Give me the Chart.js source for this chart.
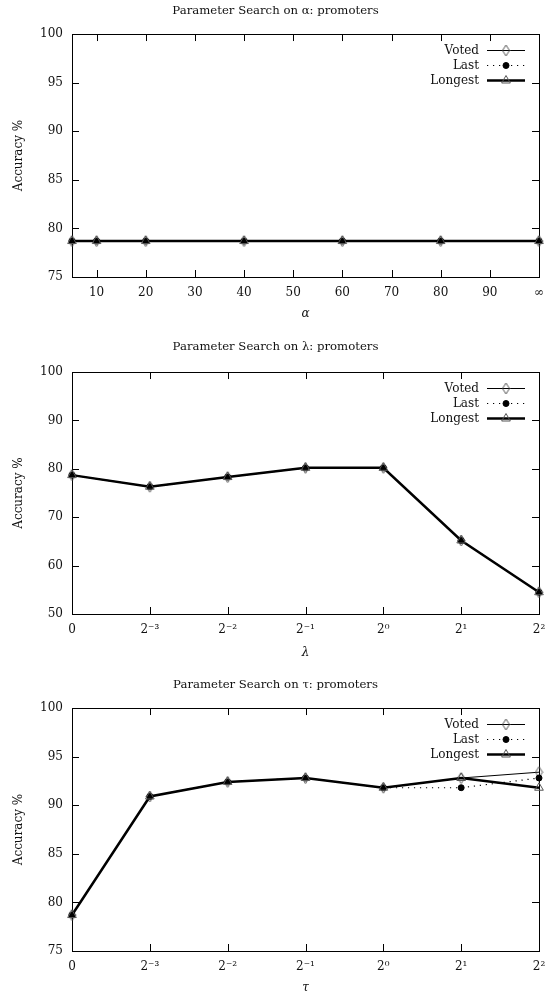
<!DOCTYPE html>
<html>
<head>
<meta charset="utf-8">
<script src="https://cdn.jsdelivr.net/npm/chart.js@4.4.1/dist/chart.umd.min.js"></script>
<style>
  html, body { margin: 0; padding: 0; background: #fff; }
  body { width: 547px; height: 996px; position: relative; overflow: hidden; }
  .panel { position: absolute; left: 0; width: 547px; }
</style>
</head>
<body>
<div class="panel" style="top:0;height:330px"><canvas id="alpha-chart"></canvas></div>
<div class="panel" style="top:330px;height:332px"><canvas id="lambda-chart"></canvas></div>
<div class="panel" style="top:662px;height:334px"><canvas id="tau-chart"></canvas></div>
<script>
// Parameter search results (promoters)
const seriesNames = ['Voted', 'Last', 'Longest'];

const alphaValues = [5, 10, 20, 40, 60, 80, 100];
const alphaTicks = [10, 20, 30, 40, 50, 60, 70, 80, 90, 100];
const alphaVoted = [78.7, 78.7, 78.7, 78.7, 78.7, 78.7, 78.7];
const alphaLast = [78.7, 78.7, 78.7, 78.7, 78.7, 78.7, 78.7];
const alphaLongest = [78.7, 78.7, 78.7, 78.7, 78.7, 78.7, 78.7];

const powerLabels = ['0', '2⁻³', '2⁻²', '2⁻¹', '2⁰', '2¹', '2²'];

const lambdaVoted = [78.7, 76.3, 78.3, 80.2, 80.2, 65.2, 54.5];
const lambdaLast = [78.7, 76.3, 78.3, 80.2, 80.2, 65.2, 54.5];
const lambdaLongest = [78.7, 76.3, 78.3, 80.2, 80.2, 65.2, 54.5];

const tauVoted = [78.7, 90.9, 92.4, 92.8, 91.8, 92.8, 93.4];
const tauLast = [78.7, 90.9, 92.4, 92.8, 91.8, 91.8, 92.8];
const tauLongest = [78.7, 90.9, 92.4, 92.8, 91.8, 92.8, 91.8];

const FONT = '"DejaVu Serif", "Liberation Serif", serif';
Chart.defaults.font.family = FONT;
Chart.defaults.font.size = 12;
Chart.defaults.color = '#111';

// tall hollow diamond like gnuplot's
function diamondMark(w, h, color) {
    const c = document.createElement('canvas');
    c.width = w + 2;
    c.height = h + 2;
    const g = c.getContext('2d');
    g.strokeStyle = color;
    g.lineWidth = 1;
    g.beginPath();
    g.moveTo(c.width / 2, 1);
    g.lineTo(c.width - 1, c.height / 2);
    g.lineTo(c.width / 2, c.height - 1);
    g.lineTo(1, c.height / 2);
    g.closePath();
    g.stroke();
    return c;
}
const diamond = diamondMark(7, 11, '#555');

function makeDatasets(voted, last, longest) {
    return [
        {
            label: seriesNames[0], data: voted,
            borderColor: '#000', borderWidth: 1,
            pointStyle: diamond, pointRadius: 5,
            pointBorderColor: '#555', pointBackgroundColor: 'rgba(0,0,0,0)', pointBorderWidth: 1,
            order: 3, clip: false
        },
        {
            label: seriesNames[1], data: last,
            borderColor: '#000', borderWidth: 1.2, borderDash: [1.2, 4.8],
            pointStyle: 'circle', pointRadius: 3,
            pointBorderColor: '#000', pointBackgroundColor: '#000', pointBorderWidth: 1,
            order: 2, clip: false
        },
        {
            label: seriesNames[2], data: longest,
            borderColor: '#000', borderWidth: 2.5,
            pointStyle: 'triangle', pointRadius: 5,
            pointBorderColor: '#555', pointBackgroundColor: 'rgba(0,0,0,0)', pointBorderWidth: 1,
            order: 1, clip: false
        }
    ];
}

// box with inward ticks on all four sides
const framePlugin = {
    id: 'frame',
    beforeDatasetsDraw(chart) {
        const { ctx, chartArea: a, scales } = chart;
        const len = 7;
        ctx.save();
        ctx.strokeStyle = '#000';
        ctx.lineWidth = 1;
        ctx.beginPath();
        scales.x.ticks.forEach((t, i) => {
            const px = Math.round(scales.x.getPixelForTick(i)) + 0.5;
            ctx.moveTo(px, a.bottom); ctx.lineTo(px, a.bottom - len);
            ctx.moveTo(px, a.top); ctx.lineTo(px, a.top + len);
        });
        scales.y.ticks.forEach((t, i) => {
            const py = Math.round(scales.y.getPixelForTick(i)) + 0.5;
            ctx.moveTo(a.left, py); ctx.lineTo(a.left + len, py);
            ctx.moveTo(a.right, py); ctx.lineTo(a.right - len, py);
        });
        ctx.stroke();
        ctx.strokeRect(Math.round(a.left) + 0.5, Math.round(a.top) + 0.5,
            Math.round(a.right - a.left), Math.round(a.bottom - a.top));
        ctx.restore();
    }
};

// key drawn inside the plot, top right
const keyPlugin = {
    id: 'key',
    afterDatasetsDraw(chart) {
        const { ctx, chartArea: a } = chart;
        ctx.save();
        ctx.font = '12px ' + FONT;
        ctx.textAlign = 'right';
        ctx.textBaseline = 'middle';
        chart.data.datasets.forEach((ds, i) => {
            const y = Math.round(a.top + 16 + i * 15) + 0.5;
            ctx.fillStyle = '#111';
            ctx.fillText(ds.label, a.right - 60, y);
            ctx.beginPath();
            ctx.setLineDash(ds.borderDash || []);
            ctx.lineWidth = ds.borderWidth;
            ctx.strokeStyle = ds.borderColor;
            ctx.moveTo(a.right - 52, y);
            ctx.lineTo(a.right - 14, y);
            ctx.stroke();
            ctx.setLineDash([]);
            ctx.fillStyle = ds.pointBackgroundColor;
            ctx.strokeStyle = ds.pointBorderColor;
            ctx.lineWidth = ds.pointBorderWidth;
            Chart.helpers.drawPoint(ctx, {
                pointStyle: ds.pointStyle, radius: ds.pointRadius,
                borderWidth: ds.pointBorderWidth, rotation: 0
            }, a.right - 33, y);
        });
        ctx.restore();
    }
};

function buildChart(id, cfg) {
    return new Chart(document.getElementById(id), {
        type: 'line',
        data: { labels: cfg.labels, datasets: cfg.datasets },
        plugins: [framePlugin, keyPlugin],
        options: {
            responsive: true,
            maintainAspectRatio: false,
            animation: false,
            devicePixelRatio: 1,
            layout: { padding: { left: 12, right: 8, top: 0, bottom: cfg.padBottom } },
            plugins: {
                legend: { display: false },
                tooltip: { enabled: false },
                title: {
                    display: true, text: cfg.title, color: '#111',
                    font: { size: 11.7, weight: 'normal' },
                    padding: { top: cfg.titleTop, bottom: cfg.titleBottom }
                }
            },
            scales: {
                x: Object.assign({
                    grid: { display: false, drawTicks: false },
                    border: { display: false },
                    title: { display: true, text: cfg.xTitle, font: { style: 'italic', size: 12 }, padding: 0 },
                    afterFit: s => {
                        s.height = cfg.xHeight;
                        s.paddingLeft = 0;
                        s.paddingRight = 0;
                    }
                }, cfg.x),
                y: {
                    min: cfg.yMin, max: cfg.yMax,
                    grid: { display: false, drawTicks: false },
                    border: { display: false },
                    ticks: { stepSize: cfg.yStep, padding: 9 },
                    title: { display: true, text: 'Accuracy %', padding: 0 },
                    afterFit: s => { s.width = 60; }
                }
            }
        }
    });
}

buildChart('alpha-chart', {
    title: 'Parameter Search on α: promoters',
    labels: alphaValues,
    datasets: makeDatasets(
        alphaValues.map((v, i) => ({ x: v, y: alphaVoted[i] })),
        alphaValues.map((v, i) => ({ x: v, y: alphaLast[i] })),
        alphaValues.map((v, i) => ({ x: v, y: alphaLongest[i] }))
    ),
    xTitle: 'α',
    x: {
        type: 'linear', min: 5, max: 100,
        afterBuildTicks: s => { s.ticks = alphaTicks.map(v => ({ value: v })); },
        ticks: { padding: 9, autoSkip: false, maxRotation: 0, callback: v => v === 100 ? '∞' : String(v) }
    },
    yMin: 75, yMax: 100, yStep: 5,
    titleTop: 4, titleBottom: 16, xHeight: 44.2, padBottom: 8.8
});

buildChart('lambda-chart', {
    title: 'Parameter Search on λ: promoters',
    labels: powerLabels,
    datasets: makeDatasets(lambdaVoted, lambdaLast, lambdaLongest),
    xTitle: 'λ',
    x: { type: 'category', ticks: { padding: 9, autoSkip: false, maxRotation: 0 } },
    yMin: 50, yMax: 100, yStep: 10,
    titleTop: 10, titleBottom: 18, xHeight: 46.2, padBottom: 1.8
});

buildChart('tau-chart', {
    title: 'Parameter Search on τ: promoters',
    labels: powerLabels,
    datasets: makeDatasets(tauVoted, tauLast, tauLongest),
    xTitle: 'τ',
    x: { type: 'category', ticks: { padding: 9, autoSkip: false, maxRotation: 0 } },
    yMin: 75, yMax: 100, yStep: 5,
    titleTop: 16, titleBottom: 16, xHeight: 44.2, padBottom: 0.8
});
</script>
</body>
</html>
